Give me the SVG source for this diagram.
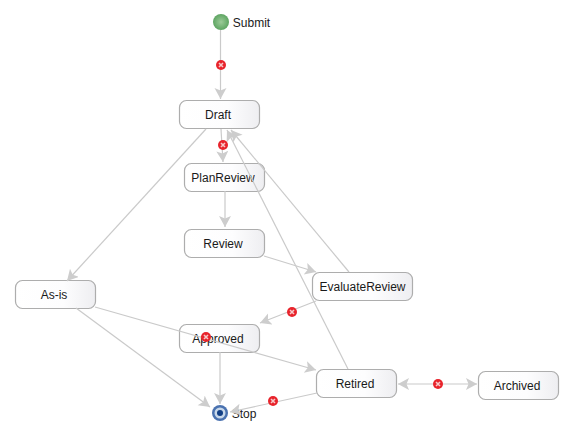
<svg xmlns="http://www.w3.org/2000/svg" width="572" height="433" viewBox="0 0 572 433">
<style>
.n{fill:url(#nf);stroke:#adadad;stroke-width:1.2}
.t{font-family:"Liberation Sans",Arial,sans-serif;font-size:12px;fill:#1a1a1a;text-anchor:middle}
.c{fill:none;stroke:#cacaca;stroke-width:1.2;marker-end:url(#a)}
.e{fill:#e8242c}
.x{stroke:#f6c8c8;stroke-width:1.6}
</style>
<defs>
<linearGradient id="nf" x1="0" y1="0" x2="1" y2="0"><stop offset="0" stop-color="#fff"/><stop offset="0.6" stop-color="#fdfdfe"/><stop offset="1" stop-color="#eeeef1"/></linearGradient>
<radialGradient id="g"><stop offset="0" stop-color="#9ccb98"/><stop offset="1" stop-color="#5ea562"/></radialGradient>
<marker id="a" markerUnits="userSpaceOnUse" markerWidth="13" markerHeight="14" refX="11" refY="6" orient="auto"><path d="M0 0L11 6L0 12L2.500 6Z" fill="#cdcdcd"/></marker>
<marker id="s" markerUnits="userSpaceOnUse" markerWidth="13" markerHeight="14" refX="0" refY="6" orient="auto"><path d="M11 0L0 6L11 12L8.500 6Z" fill="#cdcdcd"/></marker>
<g id="err"><circle r="5" class="e"/><path d="M-2 -2L2 2M2 -2L-2 2" class="x"/></g>
</defs>
<rect width="572" height="433" fill="#fff"/>
<g id="Submit"><circle cx="221" cy="22" r="8" fill="url(#g)"/><text class="t" x="251.500" y="26.500">Submit</text></g>
<g id="Draft"><rect class="n" x="179.500" y="100.500" width="80" height="28" rx="7"/><text class="t" x="218" y="119">Draft</text></g>
<g id="PlanReview"><rect class="n" x="184.500" y="163.500" width="80" height="28" rx="7"/><text class="t" x="223" y="182">PlanReview</text></g>
<g id="Review"><rect class="n" x="184.500" y="229.500" width="80" height="28" rx="7"/><text class="t" x="223" y="248">Review</text></g>
<g id="EvaluateReview"><rect class="n" x="312.500" y="272.500" width="100" height="28" rx="7"/><text class="t" x="362.500" y="291">EvaluateReview</text></g>
<g id="As-is"><rect class="n" x="15.500" y="280.500" width="80" height="28" rx="7"/><text class="t" x="54" y="299">As-is</text></g>
<g id="Approved"><rect class="n" x="179.500" y="324.500" width="80" height="28" rx="7"/><text class="t" x="218" y="343">Approved</text></g>
<g id="Retired"><rect class="n" x="316.500" y="369.500" width="80" height="28" rx="7"/><text class="t" x="355" y="388">Retired</text></g>
<g id="Archived"><rect class="n" x="478.500" y="371.500" width="80" height="28" rx="7"/><text class="t" x="517" y="390">Archived</text></g>
<g id="Stop"><circle cx="220" cy="413" r="8" fill="#4a72b0"/><circle cx="220" cy="413" r="5.500" fill="#c8d8ea"/><circle cx="220" cy="413" r="3" fill="#123f85"/><text class="t" x="244" y="418">Stop</text></g>
<g id="connectors">
<path class="c" d="M220.500 30V99"/>
<path class="c" d="M221 129L223 162"/>
<path class="c" d="M225 191V227"/>
<path class="c" d="M206 129L67 281"/>
<path class="c" d="M264 256L316 272"/>
<path class="c" d="M349 272L231 130"/>
<path class="c" d="M348 369L227 130"/>
<path class="c" d="M316 301L260 323"/>
<path class="c" d="M76 308L210 407"/>
<path class="c" d="M95 307L316 370"/>
<path class="c" d="M220 352V404"/>
<path class="c" d="M317 393L230 412"/>
<path class="c" d="M398 384H477" style="marker-start:url(#s)"/>
</g>
<g id="markers">
<use href="#err" x="221" y="65"/>
<use href="#err" x="223" y="145"/>
<use href="#err" x="292" y="312"/>
<use href="#err" x="206" y="337"/>
<use href="#err" x="273" y="401"/>
<use href="#err" x="438" y="384"/>
</g>
</svg>
